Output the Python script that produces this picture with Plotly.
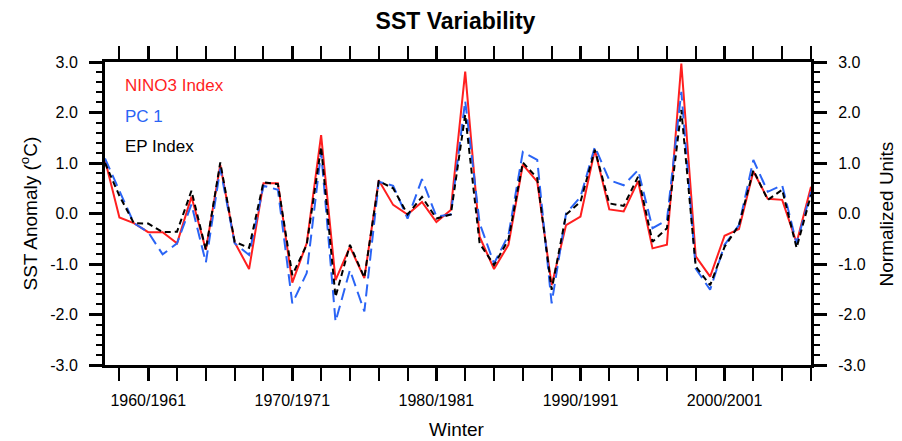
import plotly.graph_objects as go

years = list(range(1957, 2007))
nino3 = [1.06, -0.08, -0.19, -0.37, -0.37, -0.59, 0.33, -0.72, 0.96, -0.57,
         -1.10, 0.60, 0.60, -1.37, -0.59, 1.55, -1.32, -0.66, -1.28, 0.66,
         0.17, -0.02, 0.23, -0.17, 0.07, 2.81, -0.46, -1.10, -0.62, 0.97,
         0.63, -1.42, -0.23, -0.06, 1.26, 0.08, 0.04, 0.64, -0.69, -0.62,
         2.97, -0.85, -1.25, -0.44, -0.31, 0.83, 0.29, 0.27, -0.58, 0.53]
pc1 = [1.09, 0.45, -0.19, -0.37, -0.81, -0.59, 0.18, -0.97, 0.89, -0.59,
       -0.82, 0.55, 0.47, -1.78, -1.18, 1.22, -2.14, -1.12, -1.94, 0.63,
       0.55, -0.10, 0.68, -0.06, -0.02, 2.23, -0.19, -0.99, -0.43, 1.22,
       1.06, -1.78, 0.00, 0.33, 1.32, 0.66, 0.56, 0.86, -0.29, -0.13,
       2.41, -1.09, -1.51, -0.62, -0.23, 1.06, 0.43, 0.56, -0.60, 0.43]
ep = [1.00, 0.35, -0.19, -0.20, -0.37, -0.36, 0.45, -0.72, 1.01, -0.56,
      -0.68, 0.62, 0.58, -1.22, -0.62, 1.32, -1.65, -0.62, -1.27, 0.64,
      0.50, -0.02, 0.33, -0.10, -0.02, 1.96, -0.59, -1.02, -0.52, 1.01,
      0.70, -1.51, -0.02, 0.23, 1.26, 0.20, 0.15, 0.73, -0.56, -0.29,
      2.05, -1.05, -1.42, -0.66, -0.23, 0.86, 0.27, 0.47, -0.68, 0.37]

x_tickvals = [1960, 1970, 1980, 1990, 2000]
x_ticktext = ["1960/1961", "1970/1971", "1980/1981", "1990/1991", "2000/2001"]
y_tickvals = [3, 2, 1, 0, -1, -2, -3]
y_ticktext = ["3.0", "2.0", "1.0", "0.0", "-1.0", "-2.0", "-3.0"]

RED = "#ff1f1f"
BLUE = "#2a64f5"
FONT = "Liberation Sans, Arial, sans-serif"

fig = go.Figure()
fig.add_trace(go.Scatter(x=years, y=nino3, mode="lines", name="NINO3 Index",
                         line=dict(color=RED, width=2)))
fig.add_trace(go.Scatter(x=years, y=pc1, mode="lines", name="PC 1", yaxis="y2",
                         line=dict(color=BLUE, width=2, dash="12px,6px")))
fig.add_trace(go.Scatter(x=years, y=ep, mode="lines", name="EP Index", yaxis="y2",
                         line=dict(color="black", width=2, dash="6px,4px")))

common_y = dict(range=[-3, 3], tickvals=y_tickvals, ticktext=y_ticktext,
                ticks="outside", ticklen=13, tickwidth=2.5, tickcolor="black",
                showline=True, linewidth=3, linecolor="black",
                showgrid=False, zeroline=False, automargin=False,
                ticklabelstandoff=8,
                tickfont=dict(size=16, color="black", family=FONT),
                minor=dict(dtick=0.2, tick0=0, ticks="outside", ticklen=6,
                           tickwidth=2, tickcolor="black", showgrid=False))

fig.update_layout(
    template="none",
    width=902, height=441,
    margin=dict(l=105, r=91, t=62, b=76),
    paper_bgcolor="white", plot_bgcolor="white",
    showlegend=False,
    font=dict(family=FONT, color="black"),
    title=dict(text="<b>SST Variability</b>", x=0.505, xanchor="center",
               y=0.953, yanchor="middle", font=dict(size=23, family=FONT)),
    xaxis=dict(range=[1957, 2006], tickvals=x_tickvals, ticktext=x_ticktext,
               ticks="outside", ticklen=13, tickwidth=2.5, tickcolor="black",
               showline=True, linewidth=3, linecolor="black", mirror="allticks",
               showgrid=False, zeroline=False, automargin=False,
               ticklabelstandoff=6,
               tickfont=dict(size=16, color="black", family=FONT),
               minor=dict(dtick=2, tick0=1956, ticks="outside", ticklen=6,
                          tickwidth=2, tickcolor="black", showgrid=False)),
    yaxis=dict(**common_y, side="left"),
    yaxis2=dict(**common_y, side="right", overlaying="y"),
)

# axis titles
fig.add_annotation(text="Winter", xref="paper", yref="paper", x=0.4986, y=-0.2145,
                   xanchor="center", yanchor="middle", showarrow=False,
                   font=dict(size=19, color="black", family=FONT))
fig.add_annotation(text="SST Anomaly (<sup>o</sup>C)", xref="paper", yref="paper",
                   x=-0.109, y=0.5, xanchor="center", yanchor="middle",
                   textangle=-90, showarrow=False,
                   font=dict(size=19, color="black", family=FONT))
fig.add_annotation(text="Normalized Units", xref="paper", yref="paper",
                   x=1.1076, y=0.5, xanchor="center", yanchor="middle",
                   textangle=-90, showarrow=False,
                   font=dict(size=19, color="black", family=FONT))

legend_items = [("NINO3 Index", RED, 0.921), ("PC 1", BLUE, 0.819),
                ("EP Index", "black", 0.721)]
for txt, col, yy in legend_items:
    fig.add_annotation(text=txt, xref="paper", yref="paper", x=0.026, y=yy,
                       xanchor="left", yanchor="middle", showarrow=False,
                       font=dict(size=17, color=col, family=FONT))

fig.write_html("out.html",
               config={"displayModeBar": False},
               post_script="document.body.style.margin='0';"
                           "document.body.style.overflow='hidden';")
